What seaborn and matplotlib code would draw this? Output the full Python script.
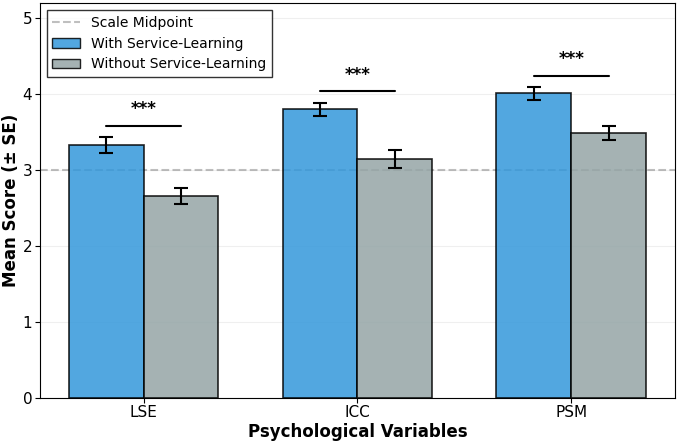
import pandas as pd
import matplotlib
matplotlib.use("Agg")
import matplotlib.pyplot as plt
from matplotlib.patches import Patch
import seaborn as sns

# Data
variables = ["LSE", "ICC", "PSM"]
groups = ["With Service-Learning", "Without Service-Learning"]
with_means = [3.33, 3.80, 4.01]
with_se = [0.10, 0.09, 0.08]
without_means = [2.66, 3.15, 3.49]
without_se = [0.11, 0.12, 0.09]
sig_labels = ["***", "***", "***"]

colors = ["#3498db", "#95a5a6"]

df = pd.DataFrame({
    "Variable": variables * 2,
    "Group": [groups[0]] * 3 + [groups[1]] * 3,
    "Mean": with_means + without_means,
    "SE": with_se + without_se,
})

sns.set_style("ticks", rc={"axes.edgecolor": "black", "text.color": "black",
                           "axes.labelcolor": "black", "xtick.color": "black",
                           "ytick.color": "black"})
plt.rcParams['font.family'] = ['DejaVu Sans']

fig, ax = plt.subplots(figsize=(6.77, 4.43), dpi=100)
fig.subplots_adjust(left=0.059, right=0.997, top=0.993, bottom=0.102)

mid = ax.axhline(3, color="gray", linestyle="--", linewidth=1.5, alpha=0.5,
                 label="Scale Midpoint", zorder=1)

sns.barplot(data=df, x="Variable", y="Mean", hue="Group", order=variables,
            hue_order=groups, palette=colors, width=0.7, errorbar=None,
            edgecolor="black", linewidth=1.2, alpha=0.85, saturation=1,
            ax=ax, zorder=2)

# error bars at bar centres
width = 0.35
for i, v in enumerate(variables):
    ax.errorbar(i - width / 2, with_means[i], yerr=with_se[i], fmt="none",
                ecolor="black", capsize=5, elinewidth=1.5, capthick=1.5, zorder=3)
    ax.errorbar(i + width / 2, without_means[i], yerr=without_se[i], fmt="none",
                ecolor="black", capsize=5, elinewidth=1.5, capthick=1.5, zorder=3)
    top = max(with_means[i] + with_se[i], without_means[i] + without_se[i]) + 0.15
    ax.plot([i - width / 2, i + width / 2], [top, top], color="black", linewidth=1.5)
    ax.text(i, top + 0.1, sig_labels[i], ha="center", va="bottom",
            fontsize=12, fontweight="bold")

ax.set_ylim(0, 5.2)
ax.set_xlim(-0.485, 2.485)
ax.set_xlabel("Psychological Variables", fontsize=12, fontweight="bold", labelpad=2)
ax.set_ylabel("Mean Score (± SE)", fontsize=12, fontweight="bold", labelpad=2)
ax.tick_params(axis="both", labelsize=11, pad=2)
ax.yaxis.grid(True, alpha=0.3)
ax.set_axisbelow(True)

handles = [mid,
           Patch(facecolor=colors[0], edgecolor="black", alpha=0.85, label=groups[0]),
           Patch(facecolor=colors[1], edgecolor="black", alpha=0.85, label=groups[1])]
leg = ax.legend(handles=handles, loc="upper left", fontsize=10, frameon=True,
                fancybox=False, edgecolor="black")
leg.get_frame().set_linewidth(1.0)

plt.savefig("out.png", dpi=100)
